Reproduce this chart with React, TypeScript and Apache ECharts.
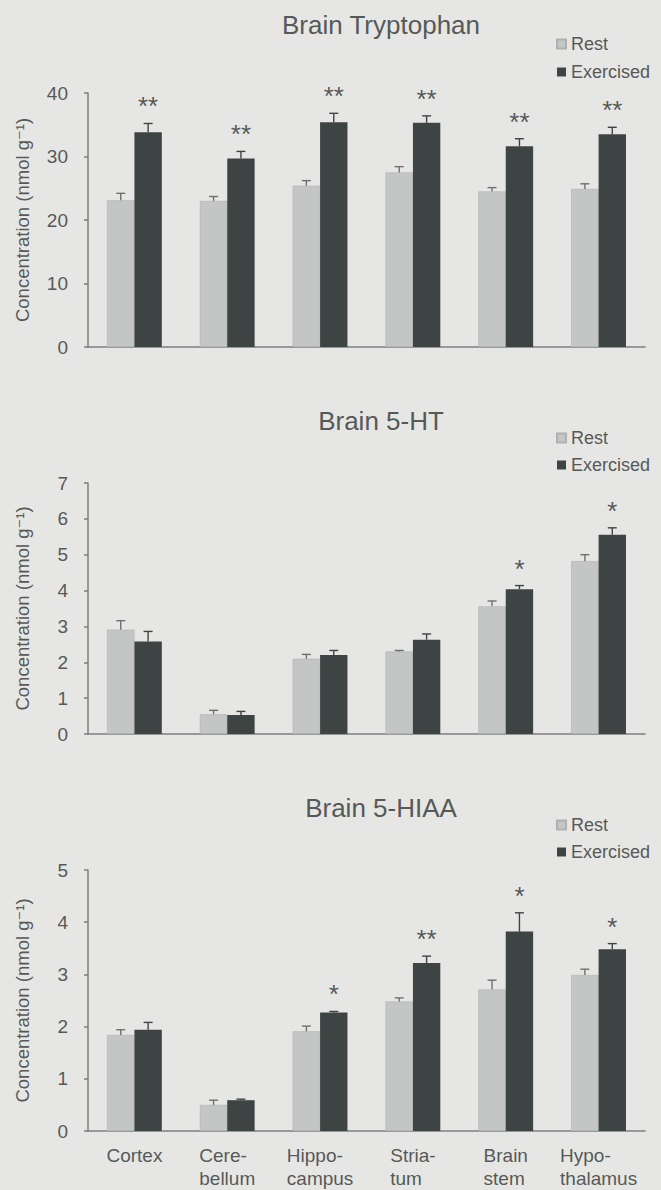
import React, { useEffect, useRef } from "react";
import * as echarts from "echarts";

// ---------- data ----------
const categories = ["Cortex", "Cere-\nbellum", "Hippo-\ncampus", "Stria-\ntum", "Brain\nstem", "Hypo-\nthalamus"];
const seriesNames = ["Rest", "Exercised"];

const trpRest = [23.1, 23.0, 25.4, 27.5, 24.5, 24.9];
const trpRestErr = [1.1, 0.7, 0.8, 0.9, 0.6, 0.8];
const trpEx = [33.8, 29.7, 35.4, 35.3, 31.6, 33.5];
const trpExErr = [1.4, 1.1, 1.4, 1.1, 1.2, 1.1];
const trpSig = ["**", "**", "**", "**", "**", "**"];

const htRest = [2.91, 0.55, 2.1, 2.3, 3.56, 4.82];
const htRestErr = [0.25, 0.11, 0.12, 0.03, 0.15, 0.18];
const htEx = [2.58, 0.53, 2.2, 2.63, 4.04, 5.56];
const htExErr = [0.28, 0.1, 0.13, 0.16, 0.1, 0.19];
const htSig = ["", "", "", "", "*", "*"];

const hiaaRest = [1.84, 0.5, 1.91, 2.48, 2.71, 2.99];
const hiaaRestErr = [0.1, 0.09, 0.1, 0.07, 0.18, 0.11];
const hiaaEx = [1.94, 0.59, 2.27, 3.22, 3.82, 3.48];
const hiaaExErr = [0.14, 0.02, 0.02, 0.13, 0.36, 0.11];
const hiaaSig = ["", "", "*", "**", "*", "*"];

const titles = ["Brain Tryptophan", "Brain 5-HT", "Brain 5-HIAA"];
const yMax = [40, 7, 5];
const yInterval = [10, 1, 1];
const yAxisName = "Concentration (nmol g\u207B\u00B9)";

// ---------- styles ----------
const W = 661;
const H = 1190;
const FONT = "'Liberation Sans', Arial, 'DejaVu Sans', sans-serif";
const TEXT = "#575957";
const AXIS = "#7d7f7e";
const REST_COLOR = "#c3c6c5";
const EX_COLOR = "#3e4443";
const BG = "#e6e7e5";
const BAR_FRAC = 0.295;
const gridTops = [93, 483, 870];
const gridBottoms = [347, 734, 1132];
const titleY = [25, 421, 808];
const legendTops = [34, 428, 815];
const legendGaps = [8, 7, 7];

const panels = [
  { rest: trpRest, restErr: trpRestErr, ex: trpEx, exErr: trpExErr, sig: trpSig },
  { rest: htRest, restErr: htRestErr, ex: htEx, exErr: htExErr, sig: htSig },
  { rest: hiaaRest, restErr: hiaaRestErr, ex: hiaaEx, exErr: hiaaExErr, sig: hiaaSig },
];

function makeErrRender(side: number, color: string, sig: string[] | null) {
  return (params: any, api: any) => {
    const i = api.value(0);
    const v = api.value(1);
    const e = api.value(2);
    const band = api.size([1, 0])[0];
    const bw = band * BAR_FRAC;
    const base = api.coord([i, v]);
    const top = api.coord([i, v + e]);
    const x = base[0] + (side * bw) / 2;
    const children: any[] = [
      { type: "line", shape: { x1: x, y1: base[1], x2: x, y2: top[1] }, style: { stroke: color, lineWidth: 1.4 } },
      { type: "line", shape: { x1: x - 4.5, y1: top[1], x2: x + 4.5, y2: top[1] }, style: { stroke: color, lineWidth: 1.4 } },
    ];
    if (sig && sig[i]) {
      children.push({
        type: "text",
        style: {
          text: sig[i],
          x: x,
          y: top[1] - 17,
          textAlign: "center",
          textVerticalAlign: "middle",
          fontSize: 26,
          fontFamily: FONT,
          fill: TEXT,
        },
      });
    }
    return { type: "group", children };
  };
}

function buildOption() {
  const grid: any[] = [];
  const xAxis: any[] = [];
  const yAxis: any[] = [];
  const series: any[] = [];
  const legend: any[] = [];
  const graphic: any[] = [];

  panels.forEach((p, k) => {
    grid.push({ left: 88, right: 16, top: gridTops[k], bottom: H - gridBottoms[k], containLabel: false });
    xAxis.push({
      type: "category",
      gridIndex: k,
      data: categories,
      axisLine: { show: true, lineStyle: { color: AXIS, width: 1.5 } },
      axisTick: { show: false },
      axisLabel: {
        show: k === 2,
        interval: 0,
        margin: 13,
        fontFamily: FONT,
        fontSize: 19,
        color: TEXT,
        lineHeight: 23,
        formatter: (val: string) =>
          val
            .split("\n")
            .map((s) => "{a|" + s + "}")
            .join("\n"),
        rich: { a: { align: "left", fontFamily: FONT, fontSize: 19, color: TEXT, lineHeight: 23 } },
      },
    });
    yAxis.push({
      type: "value",
      gridIndex: k,
      min: 0,
      max: yMax[k],
      interval: yInterval[k],
      name: yAxisName,
      nameLocation: "middle",
      nameGap: 56,
      nameRotate: 90,
      nameTextStyle: { fontFamily: FONT, fontSize: 18.5, color: TEXT },
      axisLine: { show: true, lineStyle: { color: AXIS, width: 1.5 } },
      axisTick: { show: true, length: 4, lineStyle: { color: AXIS, width: 1.5 } },
      splitLine: { show: false },
      axisLabel: { margin: 20, fontFamily: FONT, fontSize: 19, color: TEXT },
    });
    series.push({
      name: seriesNames[0],
      type: "bar",
      xAxisIndex: k,
      yAxisIndex: k,
      data: p.rest,
      barWidth: BAR_FRAC * 100 + "%",
      barGap: "0%",
      itemStyle: { color: REST_COLOR, borderColor: "#aeb1b0", borderWidth: 0.6 },
    });
    series.push({
      name: seriesNames[1],
      type: "bar",
      xAxisIndex: k,
      yAxisIndex: k,
      data: p.ex,
      barWidth: BAR_FRAC * 100 + "%",
      barGap: "0%",
      itemStyle: { color: EX_COLOR },
    });
    series.push({
      type: "custom",
      xAxisIndex: k,
      yAxisIndex: k,
      z: 5,
      silent: true,
      renderItem: makeErrRender(-1, "#6e706f", null),
      data: p.rest.map((v, i) => [i, v, p.restErr[i]]),
      encode: { x: 0, y: 1 },
    });
    series.push({
      type: "custom",
      xAxisIndex: k,
      yAxisIndex: k,
      z: 5,
      silent: true,
      renderItem: makeErrRender(1, EX_COLOR, p.sig),
      data: p.ex.map((v, i) => [i, v, p.exErr[i]]),
      encode: { x: 0, y: 1 },
    });
    legend.push({
      data: seriesNames,
      orient: "vertical",
      left: 556,
      top: legendTops[k],
      padding: 0,
      itemWidth: 9,
      itemHeight: 9,
      itemGap: legendGaps[k],
      icon: "rect",
      selectedMode: false,
      textStyle: { fontFamily: FONT, fontSize: 18, color: TEXT, lineHeight: 20 },
    });
    graphic.push({
      type: "text",
      x: 381,
      y: titleY[k],
      style: {
        text: titles[k],
        textAlign: "center",
        textVerticalAlign: "middle",
        fontFamily: FONT,
        fontSize: 26,
        fill: TEXT,
      },
    });
  });

  return {
    animation: false,
    backgroundColor: BG,
    textStyle: { fontFamily: FONT },
    grid,
    xAxis,
    yAxis,
    series,
    legend,
    graphic,
  };
}

export default function App() {
  const ref = useRef<HTMLDivElement>(null);
  useEffect(() => {
    if (!ref.current) return;
    const chart = echarts.init(ref.current, null, { renderer: "svg" });
    chart.setOption(buildOption() as any);
    return () => chart.dispose();
  }, []);
  return (
    <div
      ref={ref}
      style={{ position: "fixed", left: 0, top: 0, width: W, height: H, background: BG }}
    />
  );
}
